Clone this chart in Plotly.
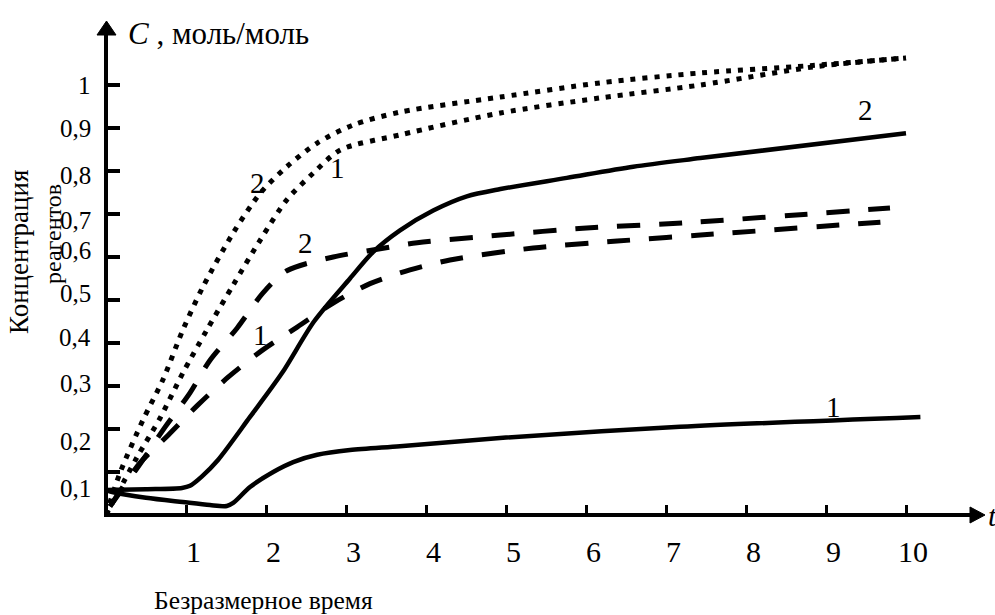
import plotly.graph_objects as go

# ---- series: dimensionless time t  vs  reagent concentration C, mol/mol ----
# dotted pair
t_dot2 = [0.0, 0.175, 0.46, 0.71, 0.96, 1.21, 1.59, 1.93, 2.26, 2.64, 3.09, 3.675, 4.93, 6.18, 7.43, 8.8, 10.0]
c_dot2 = [0.0, 0.098, 0.22, 0.314, 0.43, 0.53, 0.656, 0.749, 0.81, 0.865, 0.907, 0.937, 0.972, 1.005, 1.028, 1.045, 1.063]

t_dot1 = [0.0, 0.39, 0.675, 0.96, 1.26, 1.59, 1.93, 2.26, 2.59, 2.93, 3.675, 4.93, 6.18, 7.43, 8.84, 10.0]
c_dot1 = [0.0, 0.135, 0.225, 0.33, 0.43, 0.535, 0.64, 0.733, 0.795, 0.849, 0.884, 0.935, 0.97, 1.0, 1.042, 1.063]

# dashed pair
t_dash2 = [0.05, 0.46, 0.74, 1.05, 1.3, 1.64, 1.96, 2.26, 2.84, 3.39, 3.89, 4.93, 5.96, 7.2, 9.8]
c_dash2 = [0.02, 0.128, 0.205, 0.284, 0.36, 0.435, 0.516, 0.568, 0.60, 0.618, 0.633, 0.651, 0.667, 0.679, 0.714]

t_dash1 = [0.05, 0.425, 0.78, 1.15, 1.53, 1.96, 2.39, 2.84, 3.3, 3.8, 4.3, 5.34, 6.39, 7.43, 9.68]
c_dash1 = [0.02, 0.121, 0.186, 0.256, 0.321, 0.384, 0.437, 0.493, 0.538, 0.57, 0.593, 0.621, 0.637, 0.651, 0.681]

# solid pair
t_sol2 = [0.0, 0.5, 0.95, 1.05, 1.2, 1.4, 1.8, 2.2, 2.6, 3.05, 3.34, 3.675, 4.09, 4.51, 4.93, 5.76, 6.59, 7.43, 10.0]
c_sol2 = [0.058, 0.06, 0.063, 0.068, 0.09, 0.128, 0.228, 0.33, 0.45, 0.55, 0.612, 0.662, 0.708, 0.741, 0.758, 0.784, 0.81, 0.83, 0.888]

t_sol1 = [0.0, 0.09, 0.5, 0.96, 1.3, 1.51, 1.59, 1.8, 2.09, 2.34, 2.64, 3.05, 3.675, 5.0, 7.175, 10.18]
c_sol1 = [0.058, 0.053, 0.04, 0.03, 0.023, 0.021, 0.028, 0.065, 0.1, 0.123, 0.14, 0.151, 0.16, 0.18, 0.205, 0.228]

# curve numbers: (text, t, C)
curve_labels = [
    ("2", 1.89, 0.772),
    ("1", 2.89, 0.807),
    ("2", 2.49, 0.633),
    ("1", 1.93, 0.419),
    ("2", 9.49, 0.942),
    ("1", 9.09, 0.251),
]

# axis ticks
x_ticks = [1, 2, 3, 4, 5, 6, 7, 8, 9, 10]
x_tick_text = ["1", "2", "3", "4", "5", "6", "7", "8", "9", "10"]
y_ticks = [0.1, 0.2, 0.3, 0.4, 0.5, 0.6, 0.7, 0.8, 0.9, 1.0]
y_tick_text = ["0,1", "0,2", "0,3", "0,4", "0,5", "0,6", "0,7", "0,8", "0,9", "1"]

# ---- geometry of the page ----
W, H = 995, 615
M_L, M_R, M_T, M_B = 106, 1, 10, 100
PX_PER_T = 80.0
PX_PER_C = 430.0
PW = W - M_L - M_R
PH = H - M_T - M_B
X_RANGE = [0, PW / PX_PER_T]
Y_RANGE = [0, PH / PX_PER_C]

# vertical nudges (px) of the hand-set y labels relative to their ticks
Y_LABEL_NUDGE = [-16, -12, 3, 6, 7, 7, -6, -4, 0, 0]

FONT = "Liberation Serif, Times New Roman, serif"
BLACK = "#000000"


def px(xp):
    return (xp - M_L) / PW


def py(yp):
    return (H - M_B - yp) / PH


fig = go.Figure()

solid = dict(color=BLACK, width=4.5, shape="spline", smoothing=0.8)
dashed = dict(color=BLACK, width=5, dash="23px,19px", shape="spline", smoothing=0.8)
dotted = dict(color=BLACK, width=5, dash="5px,7px", shape="spline", smoothing=0.8)

for t, c, ln in [
    (t_dot2, c_dot2, dotted),
    (t_dot1, c_dot1, dotted),
    (t_dash2, c_dash2, dashed),
    (t_dash1, c_dash1, dashed),
    (t_sol2, c_sol2, solid),
    (t_sol1, c_sol1, solid),
]:
    fig.add_trace(go.Scatter(x=t, y=c, mode="lines", line=ln,
                             hoverinfo="skip", showlegend=False, cliponaxis=False))

annotations = []

# curve numbers
for txt, t, c in curve_labels:
    annotations.append(dict(x=t, y=c, xref="x", yref="y", text=txt, showarrow=False,
                            font=dict(family=FONT, size=29, color=BLACK),
                            xanchor="center", yanchor="middle"))

# y tick labels
for v, txt, nudge in zip(y_ticks, y_tick_text, Y_LABEL_NUDGE):
    annotations.append(dict(x=px(93), y=v, xref="paper", yref="y", text=txt, showarrow=False,
                            font=dict(family=FONT, size=25, color=BLACK),
                            xanchor="right", yanchor="middle", yshift=nudge))

# x tick labels
for v, txt in zip(x_ticks, x_tick_text):
    annotations.append(dict(x=v, y=py(551), xref="x", yref="paper", text=txt, showarrow=False,
                            font=dict(family=FONT, size=30, color=BLACK),
                            xanchor="center", yanchor="middle", xshift=7))

# axis names
annotations += [
    dict(x=px(126), y=py(33), xref="paper", yref="paper",
         text="<i>C</i> , моль/моль", showarrow=False,
         font=dict(family=FONT, size=31, color=BLACK), xanchor="left", yanchor="middle"),
    dict(x=px(986), y=py(515), xref="paper", yref="paper",
         text="<i>t</i>", showarrow=False,
         font=dict(family=FONT, size=30, color=BLACK), xanchor="left", yanchor="middle"),
    dict(x=px(19), y=py(252), xref="paper", yref="paper",
         text="Концентрация", textangle=-90, showarrow=False,
         font=dict(family=FONT, size=27, color=BLACK), xanchor="center", yanchor="middle"),
    dict(x=px(53), y=py(234), xref="paper", yref="paper",
         text="реагентов", textangle=-90, showarrow=False,
         font=dict(family=FONT, size=24, color=BLACK), xanchor="center", yanchor="middle"),
    dict(x=px(263), y=py(600), xref="paper", yref="paper",
         text="Безразмерное время", showarrow=False,
         font=dict(family=FONT, size=25.5, color=BLACK), xanchor="center", yanchor="middle"),
]

# axes with arrowheads
shapes = [
    dict(type="line", xref="paper", yref="paper", x0=px(106), y0=py(515), x1=px(106), y1=py(34),
         line=dict(color=BLACK, width=4)),
    dict(type="path", xref="paper", yref="paper",
         path=f"M {px(97)},{py(35)} L {px(116)},{py(35)} L {px(106.5)},{py(21)} Z",
         fillcolor=BLACK, line=dict(color=BLACK, width=1)),
    dict(type="line", xref="paper", yref="paper", x0=px(104), y0=py(515), x1=px(971), y1=py(515),
         line=dict(color=BLACK, width=4)),
    dict(type="path", xref="paper", yref="paper",
         path=f"M {px(970)},{py(507)} L {px(970)},{py(523)} L {px(985)},{py(515)} Z",
         fillcolor=BLACK, line=dict(color=BLACK, width=1)),
]

fig.update_layout(
    width=W, height=H,
    margin=dict(l=M_L, r=M_R, t=M_T, b=M_B),
    paper_bgcolor="white", plot_bgcolor="white",
    showlegend=False,
    annotations=annotations,
    shapes=shapes,
    xaxis=dict(range=X_RANGE, showgrid=False, zeroline=False, showline=False,
               tickmode="array", tickvals=x_ticks, ticks="inside", ticklen=10,
               tickwidth=3, tickcolor=BLACK, showticklabels=False, fixedrange=True),
    yaxis=dict(range=Y_RANGE, showgrid=False, zeroline=False, showline=False,
               tickmode="array", tickvals=y_ticks, ticks="inside", ticklen=14,
               tickwidth=3.5, tickcolor=BLACK, showticklabels=False, fixedrange=True),
)

fig.write_html("out.html", config={"displayModeBar": False})
